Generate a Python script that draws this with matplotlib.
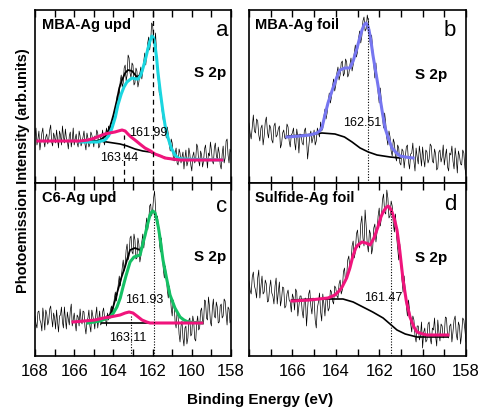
import numpy as np
import matplotlib
matplotlib.use('Agg')
import matplotlib.pyplot as plt

plt.rcParams['font.family'] = ['Liberation Sans', 'DejaVu Sans']

# measured S 2p spectra (arb. units), 168 -> 158 eV in steps of 0.05 eV
a_counts = [47, 55, 38, 44, 52, 33, 41, 50, 55, 42, 36, 46, 49, 39, 44, 53, 58, 41, 37, 50,
            46, 40, 53, 44, 35, 52, 48, 38, 57, 47, 40, 54, 45, 42, 34, 47, 51, 36, 43, 55,
            38, 44, 49, 40, 36, 52, 47, 37, 41, 46, 52, 39, 33, 50, 45, 36, 39, 51, 48, 43,
            36, 47, 44, 53, 50, 35, 37, 48, 46, 53, 42, 38, 49, 55, 44, 57, 52, 60, 50, 58,
            64, 72, 68, 80, 88, 78, 90, 102, 108, 96, 100, 115, 118, 102, 108, 128, 125, 110, 105, 120,
            118, 98, 100, 115, 112, 96, 101, 110, 116, 104, 112, 122, 130, 118, 128, 140, 146, 133, 141, 160,
            158, 145, 138, 150, 130, 112, 100, 88, 95, 78, 70, 62, 68, 52, 45, 56, 49, 38, 32, 44,
            40, 27, 22, 30, 35, 20, 18, 34, 30, 20, 26, 31, 14, 25, 33, 17, 21, 35, 29, 18,
            12, 27, 31, 20, 24, 39, 36, 22, 17, 32, 28, 16, 22, 34, 38, 26, 15, 30, 27, 41,
            33, 22, 19, 35, 40, 28, 23, 36, 30, 18, 14, 29, 37, 20, 25, 42, 44, 28, 20, 34,
            31]
b_counts = [60, 50, 44, 56, 68, 52, 50, 64, 62, 48, 42, 55, 58, 38, 47, 61, 66, 51, 45, 58,
            55, 43, 40, 57, 60, 46, 48, 54, 57, 35, 39, 50, 53, 45, 44, 59, 56, 42, 36, 48,
            50, 55, 41, 33, 54, 46, 30, 49, 48, 40, 38, 52, 55, 44, 24, 36, 47, 52, 40, 45,
            53, 38, 42, 55, 50, 46, 61, 52, 55, 66, 74, 64, 70, 82, 90, 80, 86, 97, 104, 92,
            98, 110, 116, 103, 108, 120, 122, 107, 110, 124, 121, 106, 109, 118, 125, 112, 118, 130, 138, 126,
            131, 145, 152, 140, 147, 162, 166, 152, 154, 168, 162, 146, 138, 148, 134, 118, 105, 120, 104, 90,
            80, 95, 82, 66, 55, 70, 60, 45, 38, 52, 46, 32, 27, 44, 40, 26, 22, 38, 35, 20,
            18, 34, 32, 15, 25, 36, 38, 21, 14, 29, 30, 40, 22, 12, 35, 26, 19, 37, 28, 17,
            36, 24, 16, 33, 31, 20, 24, 39, 37, 22, 20, 34, 29, 13, 15, 31, 33, 21, 26, 38,
            18, 27, 34, 16, 12, 30, 28, 37, 22, 14, 35, 25, 10, 32, 27, 19, 18, 33, 30, 15,
            8]
c_counts = [40, 32, 28, 44, 45, 36, 33, 25, 48, 39, 26, 46, 42, 31, 35, 47, 50, 38, 29, 43,
            38, 27, 46, 34, 24, 40, 41, 49, 34, 28, 49, 37, 27, 44, 37, 31, 45, 52, 30, 36,
            43, 33, 25, 41, 39, 30, 47, 36, 32, 45, 44, 29, 22, 35, 38, 46, 30, 24, 46, 40,
            35, 27, 41, 49, 28, 37, 45, 31, 33, 44, 48, 38, 37, 30, 43, 36, 40, 46, 50, 42,
            48, 58, 64, 55, 62, 72, 80, 70, 78, 88, 96, 85, 92, 106, 112, 96, 100, 118, 120, 104,
            102, 122, 116, 97, 98, 118, 112, 94, 100, 114, 122, 108, 118, 130, 138, 126, 134, 150, 152, 140,
            145, 158, 165, 148, 132, 140, 128, 112, 104, 118, 100, 86, 78, 90, 80, 66, 58, 70, 62, 48,
            40, 56, 50, 34, 28, 45, 40, 22, 14, 30, 35, 18, 10, 28, 30, 12, 18, 36, 38, 20,
            22, 40, 34, 17, 15, 33, 40, 26, 28, 45, 48, 35, 32, 56, 55, 38, 36, 59, 50, 34,
            30, 48, 57, 40, 38, 54, 49, 33, 34, 50, 52, 38, 40, 57, 55, 42, 31, 49, 47, 33,
            36]
d_counts = [75, 66, 62, 79, 84, 70, 66, 58, 78, 86, 58, 70, 80, 62, 64, 76, 72, 54, 55, 68,
            76, 63, 60, 52, 70, 78, 52, 64, 74, 50, 57, 69, 68, 48, 50, 62, 66, 56, 54, 44,
            62, 58, 46, 67, 64, 40, 50, 60, 60, 45, 38, 56, 58, 30, 47, 62, 66, 50, 42, 58,
            56, 36, 28, 48, 54, 63, 44, 35, 62, 52, 40, 58, 57, 45, 48, 66, 64, 55, 52, 70,
            68, 60, 58, 72, 76, 62, 66, 84, 88, 74, 80, 96, 100, 86, 92, 110, 115, 98, 104, 122,
            126, 112, 108, 132, 140, 118, 110, 146, 130, 112, 104, 126, 122, 102, 108, 128, 132, 114, 124, 140,
            148, 130, 138, 156, 162, 144, 142, 166, 158, 138, 140, 155, 150, 132, 124, 142, 120, 108, 96, 112,
            92, 76, 64, 80, 66, 50, 40, 56, 46, 32, 24, 40, 36, 20, 14, 30, 30, 16, 20, 34,
            8, 24, 28, 14, 16, 32, 34, 18, 12, 28, 26, 38, 20, 10, 36, 24, 15, 32, 30, 18,
            22, 39, 38, 20, 18, 30, 32, 14, 24, 36, 40, 22, 16, 34, 30, 12, 22, 38, 36, 26,
            14]

# fitted curves (energy, intensity)
a_fit_e = [165.7, 165.2, 164.8, 164.43, 164.25, 164.07, 163.9, 163.77, 163.6, 163.46, 163.31, 163.05,
           162.85, 162.74, 162.6, 162.49, 162.35, 162.23, 162.12, 162.03, 161.95, 161.88, 161.8, 161.73,
           161.6, 161.47, 161.35, 161.21, 161.05, 160.86, 160.7, 160.5, 158.46]
a_fit_h = [41, 41, 41, 43, 47, 55, 66, 78, 89, 96, 101, 105,
           104, 104, 108, 115, 125, 135, 143, 147, 145, 138, 126, 111,
           90, 71, 56, 45, 35, 28, 25, 24, 23]
a_comp_e = [167.85, 165.7, 165.3, 164.94, 164.7, 164.43, 164.2, 163.92, 163.75, 163.56, 163.4, 163.26,
            163.1, 162.9, 162.65, 162.39, 162.1, 161.88, 161.6, 161.37, 161.0, 160.6, 158.46]
a_comp_h = [42, 42, 43, 45, 47, 49, 50, 51, 52, 53, 52, 49,
            46, 43, 39, 35, 32, 29, 27, 25, 24, 23, 23]
a_bg_e = [165.5, 164.68, 164.33, 163.66, 163.3, 162.9, 162.5, 162.13, 161.9, 161.62, 161.3, 161.11, 160.8]
a_bg_h = [42, 42, 41, 39, 37, 34, 32, 31, 29, 27, 25, 24, 23]
a_env_e = [164.9, 164.68, 164.4, 164.17, 164.0, 163.82, 163.7, 163.56, 163.4, 163.26, 163.05, 162.8,
           162.65, 162.5]
a_env_h = [42, 43, 47, 56, 68, 83, 95, 103, 110, 113, 112, 106, 108, 115]

b_fit_e = [166.25, 165.65, 165.2, 164.87, 164.75, 164.64, 164.5, 164.36, 164.13, 163.95, 163.81, 163.58,
           163.35, 163.2, 163.02, 162.9, 162.79, 162.7, 162.61, 162.54, 162.47, 162.38, 162.29, 162.12,
           161.96, 161.85, 161.73, 161.55, 161.41, 161.2, 161.04, 160.8, 160.44]
b_fit_h = [46, 47, 48, 50, 52, 55, 68, 80, 95, 106, 113, 115,
           115, 122, 135, 145, 153, 158, 160, 158, 153, 142, 128, 106,
           85, 70, 55, 43, 35, 30, 27, 26, 25]
b_bg_e = [166.2, 165.4, 164.64, 164.04, 163.6, 163.25, 162.88, 162.5, 162.1, 161.8, 161.5, 161.04]
b_bg_h = [47, 48, 50, 49, 46, 41, 35, 31, 28, 27, 26, 25]

c_fit_e = [165.3, 164.68, 164.17, 164.0, 163.82, 163.65, 163.51, 163.36, 163.15, 162.95, 162.8, 162.64,
           162.49, 162.38, 162.29, 162.2, 162.13, 162.05, 161.98, 161.88, 161.78, 161.7, 161.62, 161.47,
           161.27, 161.11, 160.86, 160.6, 160.4, 160.19, 159.48]
c_fit_h = [33, 35, 39, 43, 49, 58, 69, 80, 94, 99, 100, 101,
           113, 121, 129, 136, 141, 144, 145, 143, 136, 128, 118, 96,
           76, 61, 48, 39, 36, 34, 33]
c_comp_e = [166.06, 165.5, 164.94, 164.5, 164.17, 163.66, 163.4, 163.2, 163.0, 162.8, 162.54, 162.3,
            162.13, 159.48]
c_comp_h = [34, 35, 36, 38, 39, 41, 43, 44, 43, 40, 36, 34, 33, 33]
c_bg_e = [164.6, 162.0]
c_bg_h = [33, 33]
c_env_e = [164.3, 164.17, 164.0, 163.77, 163.6, 163.41, 163.25, 163.15, 162.9, 162.64, 162.49]
c_env_h = [40, 41, 50, 66, 78, 89, 100, 106, 108, 106, 111]

d_fit_e = [166.02, 165.2, 164.36, 164.04, 163.85, 163.71, 163.5, 163.35, 163.21, 163.08, 162.98, 162.79,
           162.61, 162.42, 162.24, 162.06, 161.92, 161.82, 161.7, 161.59, 161.5, 161.41, 161.3, 161.18,
           161.05, 160.9, 160.75, 160.58, 160.4, 160.26, 160.0, 159.8, 158.83]
d_fit_h = [55, 56, 58, 61, 65, 69, 78, 88, 100, 108, 111, 114,
           113, 111, 118, 129, 139, 144, 148, 150, 148, 144, 137, 126,
           105, 76, 55, 39, 29, 24, 22, 21, 21]
d_bg_e = [166.02, 165.0, 163.67, 163.2, 162.75, 162.3, 161.82, 161.5, 161.18, 160.8, 160.26, 158.83]
d_bg_h = [56, 57, 57, 54, 49, 44, 38, 32, 26, 22, 19, 19]

fig = plt.figure(figsize=(4.8, 4.07), dpi=100)
W, H = 480.0, 407.0
ax_a = fig.add_axes([35 / W, 1 - 183 / H, 196 / W, 173 / H])
ax_b = fig.add_axes([249 / W, 1 - 183 / H, 217 / W, 173 / H])
ax_c = fig.add_axes([35 / W, 1 - 356 / H, 196 / W, 173 / H])
ax_d = fig.add_axes([249 / W, 1 - 356 / H, 217 / W, 173 / H])

pink = '#f0147c'
cyan = '#1ad6e0'
blue = '#7676f0'
green = '#14c064'

for ax in [ax_a, ax_b, ax_c, ax_d]:
    ax.set_xlim(168, 158)
    ax.set_ylim(0, 173)
    ax.set_yticks([])
    for s in ax.spines.values():
        s.set_linewidth(1.2)
    ax.tick_params(axis='x', which='both', direction='in', top=True, length=5, width=1,
                   labelsize=12, pad=6)

for ax in [ax_a, ax_c]:
    ax.set_xticks([168, 166, 164, 162, 160, 158])
    ax.set_xticks(range(158, 169), minor=True)
for ax in [ax_b, ax_d]:
    ax.set_xticks([166, 164, 162, 160, 158])
    ax.set_xticks(range(158, 169), minor=True)
ax_a.tick_params(labelbottom=False)
ax_b.tick_params(labelbottom=False)

# panel a
ax_a.plot(np.linspace(168, 158, len(a_counts)), a_counts, color='black', lw=0.5)
ax_a.plot(a_bg_e, a_bg_h, color='black', lw=1.2)
ax_a.plot(a_env_e, a_env_h, color='black', lw=1.3)
ax_a.plot(a_fit_e, a_fit_h, color=cyan, lw=2.2)
ax_a.plot(a_comp_e, a_comp_h, color=pink, lw=2.2)
ax_a.axvline(161.99, color='black', lw=0.9, ls=(0, (4, 3)))
ax_a.plot([163.44, 163.44], [0, 48], color='black', lw=0.9, ls=(0, (4, 3)))
ax_a.text(167.64, 158, 'MBA-Ag upd', fontsize=10.5, fontweight='bold', ha='left', va='center')
ax_a.text(158.46, 153, 'a', fontsize=16, ha='center', va='center')
ax_a.text(159.07, 110, 'S 2p', fontsize=11, fontweight='bold', ha='center', va='center')
ax_a.text(162.23, 50, '161.99', fontsize=9, ha='center', va='center')
ax_a.text(163.71, 25, '163.44', fontsize=9, ha='center', va='center')

# panel b
ax_b.plot(np.linspace(168, 158, len(b_counts)), b_counts, color='black', lw=0.5)
ax_b.plot(b_bg_e, b_bg_h, color='black', lw=1.2)
ax_b.plot(b_fit_e, b_fit_h, color=blue, lw=2.2)
ax_b.plot([162.51, 162.51], [0, 165], color='black', lw=0.8, ls=(0, (1, 1.5)))
ax_b.text(167.72, 158, 'MBA-Ag foil', fontsize=10.5, fontweight='bold', ha='left', va='center')
ax_b.text(158.74, 153, 'b', fontsize=16, ha='center', va='center')
ax_b.text(159.61, 108, 'S 2p', fontsize=11, fontweight='bold', ha='center', va='center')
ax_b.text(162.79, 60, '162.51', fontsize=9, ha='center', va='center')

# panel c
ax_c.plot(np.linspace(168, 158, len(c_counts)), c_counts, color='black', lw=0.5)
ax_c.plot(c_bg_e, c_bg_h, color='black', lw=1.2)
ax_c.plot(c_env_e, c_env_h, color='black', lw=1.3)
ax_c.plot(c_fit_e, c_fit_h, color=green, lw=2.2)
ax_c.plot(c_comp_e, c_comp_h, color=pink, lw=2.2)
ax_c.plot([161.93, 161.93], [0, 143], color='black', lw=0.8, ls=(0, (1, 1.5)))
ax_c.plot([163.11, 163.11], [0, 40], color='black', lw=0.8, ls=(0, (1, 1.5)))
ax_c.text(167.64, 158, 'C6-Ag upd', fontsize=10.5, fontweight='bold', ha='left', va='center')
ax_c.text(158.46, 149, 'c', fontsize=16, ha='center', va='center')
ax_c.text(159.07, 99, 'S 2p', fontsize=11, fontweight='bold', ha='center', va='center')
ax_c.text(162.44, 56, '161.93', fontsize=9, ha='center', va='center')
ax_c.text(163.26, 18, '163.11', fontsize=9, ha='center', va='center')

# panel d
ax_d.plot(np.linspace(168, 158, len(d_counts)), d_counts, color='black', lw=0.5)
ax_d.plot(d_bg_e, d_bg_h, color='black', lw=1.2)
ax_d.plot(d_fit_e, d_fit_h, color=pink, lw=2.2)
ax_d.plot([161.47, 161.47], [0, 146], color='black', lw=0.8, ls=(0, (1, 1.5)))
ax_d.text(167.72, 158, 'Sulfide-Ag foil', fontsize=10.5, fontweight='bold', ha='left', va='center')
ax_d.text(158.74, 151, 'd', fontsize=16, ha='center', va='center')
ax_d.text(159.61, 98, 'S 2p', fontsize=11, fontweight='bold', ha='center', va='center')
ax_d.text(161.82, 58, '161.47', fontsize=9, ha='center', va='center')

fig.text(23 / W, 1 - 171 / H, 'Photoemission Intensity (arb.units)', rotation=90,
         fontsize=10.5, fontweight='bold', ha='center', va='center')
fig.text(260 / W, 1 - 400 / H, 'Binding Energy (eV)', fontsize=11, fontweight='bold',
         ha='center', va='center')

fig.savefig('out.png', dpi=100)
